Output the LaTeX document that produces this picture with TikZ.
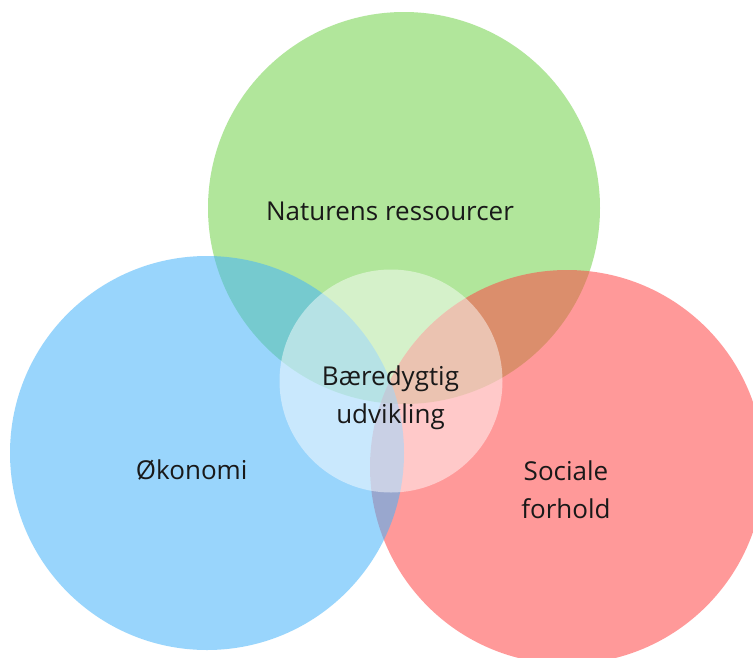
\documentclass[tikz,border=0pt]{standalone}
\usepackage{fontspec}
\setmainfont{Open Sans}
\definecolor{cgreen}{RGB}{113,210,73}
\definecolor{cred}{RGB}{255,71,71}
\definecolor{cblue}{RGB}{70,180,250}
\definecolor{ctext}{RGB}{25,25,25}
\tikzset{
  disc/.style={fill=#1, fill opacity=0.55, draw=none},
  core/.style={fill=white, fill opacity=0.47, draw=none},
  lbl/.style={text=ctext, font=\fontsize{26}{38}\selectfont, align=center, anchor=base, inner sep=0pt}
}
\begin{document}
\begin{tikzpicture}[x=1pt,y=-1pt]
\useasboundingbox (0,0) rectangle (753,657);
\clip (0,0) rectangle (753,657);
\fill[white] (0,0) rectangle (753,657);
\path[disc=cgreen] (404,208) circle (196pt);
\path[disc=cred] (567,467) circle (197pt);
\path[disc=cblue] (207,453) circle (197pt);
\path[core] (391,381) circle (111.5pt);
\node[lbl] (nat) at (390,220) {Naturens ressourcer};
\node[lbl] (bu) at (390.5,423) {Bæredygtig\\udvikling};
\node[lbl] (oko) at (191.7,479.5) {Økonomi};
\node[lbl] (soc) at (566,518) {Sociale\\forhold};
\end{tikzpicture}
\end{document}
